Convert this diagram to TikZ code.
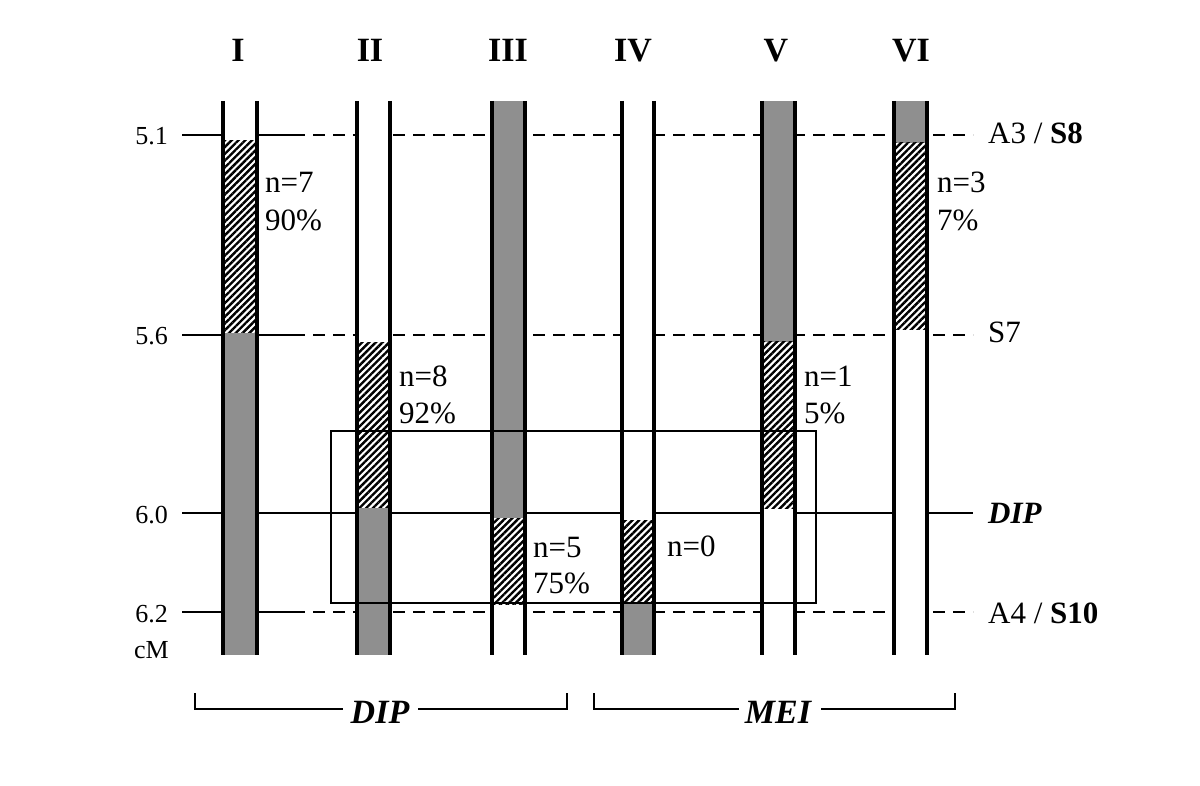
\documentclass[tikz,border=0pt]{standalone}
\usepackage{fontspec}
\setmainfont{Liberation Serif}
\usetikzlibrary{patterns.meta}
\definecolor{bargray}{RGB}{143,143,143}
\tikzset{
  hline/.style={line width=2.4pt},
  dline/.style={line width=2.4pt, dash pattern=on 12pt off 8pt},
  barline/.style={line width=3.2pt},
  grayfill/.style={fill=bargray},
  hatchfill/.style={pattern={Lines[angle=45,distance=4.8pt,line width=2.4pt]}, pattern color=black},
  boxline/.style={line width=1.6pt},
  numlbl/.style={font=\fontsize{31}{36}\selectfont, inner sep=0pt, anchor=base west},
  axlbl/.style={font=\fontsize{26}{30}\selectfont, inner sep=0pt, anchor=base east},
  rlbl/.style={font=\fontsize{31}{36}\selectfont, inner sep=0pt, anchor=base west},
  roman/.style={font=\fontsize{34}{38}\selectfont\bfseries, inner sep=0pt, anchor=base},
  grplbl/.style={font=\fontsize{34}{38}\selectfont\bfseries\itshape, inner sep=0pt, anchor=base}
}
\begin{document}
\begin{tikzpicture}[x=1pt,y=-1pt]
\useasboundingbox[fill=white] (0,0) rectangle (1200,786);

% horizontal reference lines
\coordinate (a1) at (182,135); \coordinate (b1) at (293,135); \coordinate (c1) at (973,135);
\coordinate (a2) at (182,335); \coordinate (b2) at (293,335); \coordinate (c2) at (973,335);
\coordinate (a3) at (182,513); \coordinate (c3) at (973,513);
\coordinate (a4) at (182,612); \coordinate (b4) at (293,612); \coordinate (c4) at (973,612);
\draw[hline] (a1) -- (b1); \draw[dline] (b1) -- (c1);
\draw[hline] (a2) -- (b2); \draw[dline] (b2) -- (c2);
\draw[hline] (a3) -- (c3);
\draw[hline] (a4) -- (b4); \draw[dline] (b4) -- (c4);

% bar backgrounds
\foreach \l/\r in {223/257, 357/390, 492/525, 622/654, 762/795, 894/927}
  \fill[white] (\l,101) rectangle (\r,655);

% I
\path[hatchfill] (224,141) rectangle (256,333);
\path[grayfill] (224,333) rectangle (256,655);
% II
\path[hatchfill] (358,343) rectangle (389,508);
\path[grayfill] (358,508) rectangle (389,655);
% III
\path[grayfill] (493,101) rectangle (524,518);
\path[hatchfill] (493,518) rectangle (524,604);
% IV
\path[hatchfill] (623,520) rectangle (653,603);
\path[grayfill] (623,603) rectangle (653,655);
% V
\path[grayfill] (763,101) rectangle (794,342);
\path[hatchfill] (763,342) rectangle (794,508);
% VI
\path[grayfill] (895,101) rectangle (926,143);
\path[hatchfill] (895,143) rectangle (926,330);

% bar outlines
\foreach \l/\r in {223/257, 357/390, 492/525, 622/654, 762/795, 894/927}{
  \draw[barline] (\l,101) -- (\l,655);
  \draw[barline] (\r,101) -- (\r,655);
}

% box
\draw[boxline] (331,431) rectangle (816,603);

% column labels
\node[roman] (rI) at (238,62) {I};
\node[roman] (rII) at (370,62) {II};
\node[roman] (rIII) at (508,62) {III};
\node[roman] (rIV) at (633,62) {IV};
\node[roman] (rV) at (776,62) {V};
\node[roman] (rVI) at (911,62) {VI};

% axis labels
\node[axlbl] (y51) at (168,145) {5.1};
\node[axlbl] (y56) at (168,345) {5.6};
\node[axlbl] (y60) at (168,523) {6.0};
\node[axlbl] (y62) at (168,622) {6.2};
\node[axlbl] (ycm) at (169,658) {cM};

% right labels
\node[rlbl] (rA3) at (988,144) {A3 / \textbf{S8}};
\node[rlbl] (rS7) at (988,343) {S7};
\node[rlbl] (rDIP) at (988,523) {\textbf{\textit{DIP}}};
\node[rlbl] (rA4) at (988,623) {A4 / \textbf{S10}};

% counts
\node[numlbl] (n7) at (265,193) {n=7};
\node[numlbl] (p7) at (265,231) {90\%};
\node[numlbl] (n8) at (399,387) {n=8};
\node[numlbl] (p8) at (399,424) {92\%};
\node[numlbl] (n5) at (533,557) {n=5};
\node[numlbl] (p5) at (533,593) {75\%};
\node[numlbl] (n0) at (667,556) {n=0};
\node[numlbl] (n1) at (804,387) {n=1};
\node[numlbl] (p1) at (804,423) {5\%};
\node[numlbl] (n3) at (937,193) {n=3};
\node[numlbl] (p3) at (937,231) {7\%};

% group brackets
\node[grplbl] (gDIP) at (380,723) {DIP};
\node[grplbl] (gMEI) at (778,723) {MEI};
\coordinate (d1) at (195,693); \coordinate (d2) at (567,693);
\coordinate (m1) at (594,693); \coordinate (m2) at (955,693);
\draw[hline] (d1) -- (195,709) -- (343,709);
\draw[hline] (418,709) -- (567,709) -- (d2);
\draw[hline] (m1) -- (594,709) -- (739,709);
\draw[hline] (821,709) -- (955,709) -- (m2);
\end{tikzpicture}
\end{document}
